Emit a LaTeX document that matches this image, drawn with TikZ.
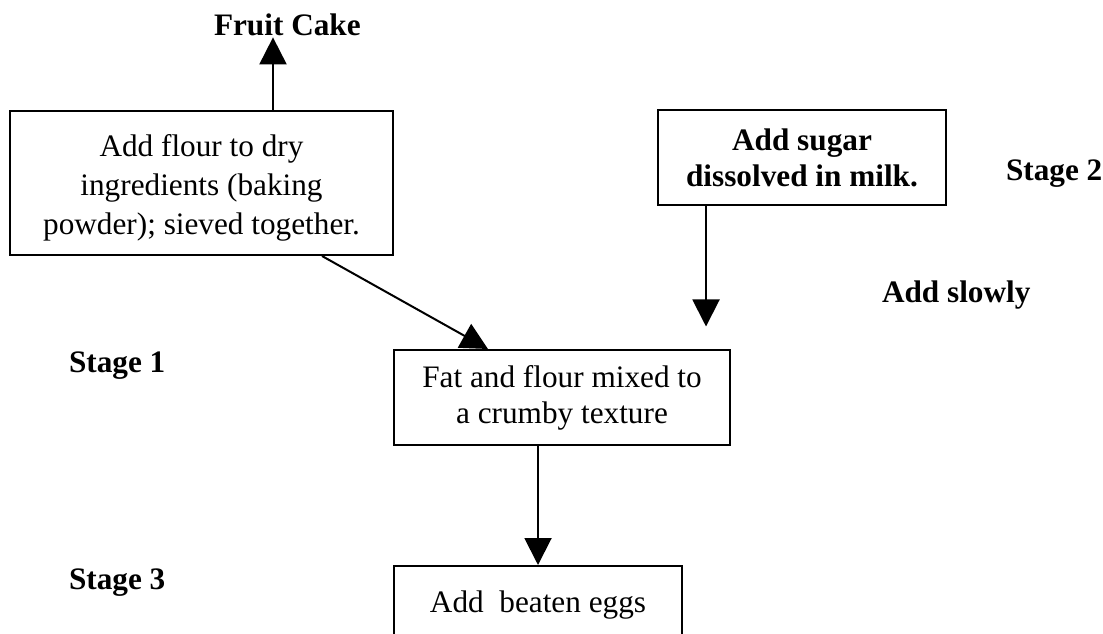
\documentclass[tikz,border=0pt]{standalone}
\usepackage{fontspec}
\setmainfont{Liberation Serif}
\usetikzlibrary{positioning,arrows.meta}

\begin{document}
\begin{tikzpicture}[%
    >={Triangle[length=10.8pt,width=10.8pt]}, % Solid heads, as in the scan
    line width=0.8pt,                         % One pen for boxes and arrows
    node distance=20pt and 20pt,              % Overridden per node below
    ]
% -------------------------------------------------
% A few box styles
% <on grid> makes every shift below centre to centre
\tikzset{
  base/.style={draw, on grid, align=center, inner sep=0pt,
    font=\fontsize{12.5pt}{14.4pt}\selectfont},
  box/.style={base, minimum width=115.2pt, minimum height=38pt},
  bbox/.style={box, font=\fontsize{12.5pt}{14.4pt}\selectfont\bfseries},
  lbl/.style={anchor=base west, inner sep=0pt,
    font=\fontsize{12.5pt}{14.4pt}\selectfont\bfseries},
  norm/.style={->, draw},
}
% Page size of the scan (1 px = 0.4pt)
\useasboundingbox (0,0) rectangle (441.2pt,-253.6pt);
% -------------------------------------------------
% Start by placing the boxes
\node [box, minimum width=153.2pt, minimum height=57.6pt,
  font=\fontsize{12.5pt}{15.6pt}\selectfont] (flour) at (80.6pt,-73.2pt)
  {\rule{0pt}{12.5pt}Add flour to dry\\ ingredients (baking\\ powder); sieved together.};
\node [bbox, above right=10pt and 240.2pt of flour] (sugar)
  {Add sugar\\ dissolved in milk.};
\node [box, minimum width=134.4pt, below right=85.8pt and 144.2pt of flour] (fat)
  {Fat and flour mixed to\\ a crumby texture};
\node [box, minimum height=31.2pt, below left=83pt and 9.6pt of fat] (eggs)
  {Add\ \ beaten eggs};

% Free labels
\node [lbl] (cake) at (85.2pt,-14.4pt)   {Fruit Cake};
\node [lbl] (st1)  at (27.2pt,-149.2pt)  {Stage 1};
\node [lbl] (st2)  at (402pt,-72.4pt)    {Stage 2};
\node [lbl] (slow) at (352.4pt,-121.2pt) {Add slowly};
\node [lbl] (st3)  at (27.2pt,-235.6pt)  {Stage 3};

% Connectors
\coordinate (drop) at ([xshift=-38.4pt,yshift=-48pt]sugar.south);
\draw[norm] ([xshift=28.6pt]flour.north) -- ([xshift=28.6pt]flour.north |- cake.south);
\draw[norm] (sugar.south -| drop) -- (drop);
\draw[norm] ([xshift=48.2pt]flour.south) -- ([xshift=-29.6pt]fat.north);
\draw[norm] (fat.south -| eggs.north) -- (eggs.north);
% -------------------------------------------------
\end{tikzpicture}
\end{document}
